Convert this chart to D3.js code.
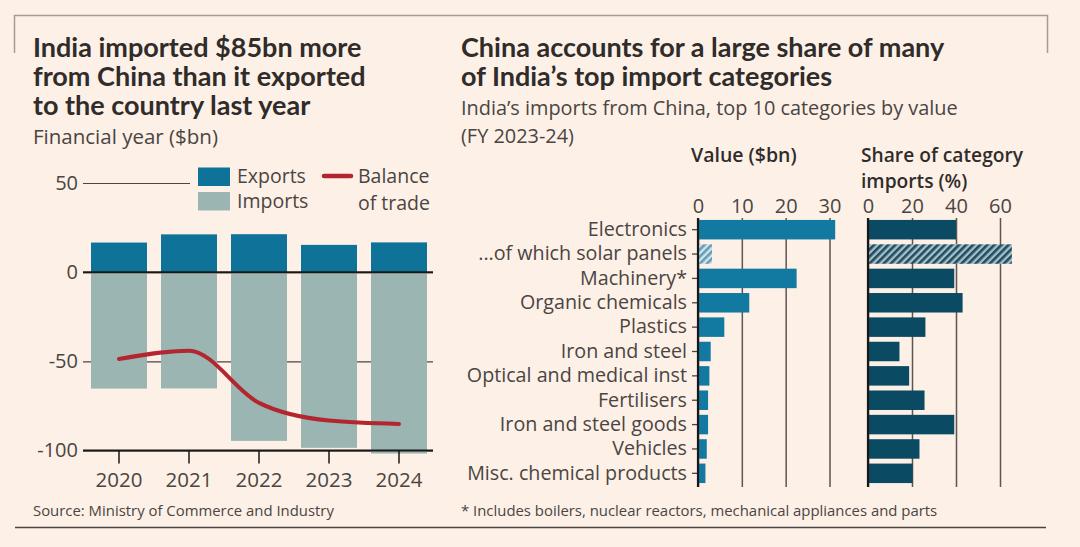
<!doctype html>
<html lang="en">
<head>
  <meta charset="utf-8" />
  <title>India and China trade</title>
  <style>
    html, body {
      margin: 0;
      padding: 0;
      background-color: #fdf0e7;
    }
    svg {
      display: block;
      font-family: "Open Sans", Lato, sans-serif;
    }
    .axis text {
      font-family: "Open Sans", sans-serif;
      fill: #4a4542;
    }
  </style>
</head>
<body>

<svg id="chart" width="1080" height="547"></svg>

<script src="https://cdn.jsdelivr.net/npm/d3@7"></script>

<script>

// Left panel: trade by financial year ($bn)
var years = ['2020', '2021', '2022', '2023', '2024'];
var exportsBn = [16.6, 21.2, 21.3, 15.3, 16.7];
var importsBn = [65.3, 65.2, 94.6, 98.5, 101.7];
var balanceBn = [-48.7, -44.0, -73.3, -83.2, -85.1];
var leftTicks = [-100, -50, 0, 50];

// Right panel: top import categories, FY 2023-24
var categories = ['Electronics', '...of which solar panels', 'Machinery*', 'Organic chemicals',
  'Plastics', 'Iron and steel', 'Optical and medical inst', 'Fertilisers',
  'Iron and steel goods', 'Vehicles', 'Misc. chemical products'];
var valueBn = [31.3, 3.2, 22.5, 11.7, 6.0, 2.9, 2.6, 2.3, 2.3, 2.0, 1.7];
var sharePct = [40.0, 65.4, 39.2, 43.0, 26.1, 14.3, 18.7, 25.7, 39.2, 23.4, 20.3];
var valueTicks = [0, 10, 20, 30];
var shareTicks = [0, 20, 40, 60];

var ink = '#2f2c2a';
var grey = '#4a4542';
var exportCol = '#0f7399';
var importCol = '#9ab5b2';
var balanceCol = '#b3262f';
var valueCol = '#127aa0';
var shareCol = '#0b4a63';

var svg = d3.select('#chart');

// hatch patterns for the solar panel row
var defs = svg.append('defs');
function hatch(id, bg, fg) {
  var p = defs.append('pattern')
    .attr('id', id)
    .attr('width', 5)
    .attr('height', 5)
    .attr('patternUnits', 'userSpaceOnUse')
    .attr('patternTransform', 'rotate(45)');
  p.append('rect').attr('width', 5).attr('height', 5).attr('fill', bg);
  p.append('rect').attr('width', 2.6).attr('height', 5).attr('fill', fg);
}
hatch('hatchValue', '#d7e3e6', '#5f9dbd');
hatch('hatchShare', '#a9bec6', '#1d4d61');

// frame
svg.append('path')
  .attr('d', 'M14.5,53V15.5H1047.5V53')
  .attr('fill', 'none')
  .attr('stroke', '#a39c97')
  .attr('stroke-width', 1.5);
svg.append('line')
  .attr('x1', 15).attr('x2', 1046)
  .attr('y1', 527.5).attr('y2', 527.5)
  .attr('stroke', grey)
  .attr('stroke-width', 1.5);

// titles and notes
function textLines(x, y0, step, lines, size, weight, fill, family) {
  lines.forEach(function (t, i) {
    svg.append('text')
      .attr('x', x)
      .attr('y', y0 + i * step)
      .attr('font-size', size)
      .attr('font-weight', weight)
      .attr('font-family', family || null)
      .attr('fill', fill)
      .text(t);
  });
}
textLines(33, 57, 29, ['India imported $85bn more', 'from China than it exported', 'to the country last year'], 27, 700, ink, 'Lato');
textLines(33, 144, 0, ['Financial year ($bn)'], 20.5, 400, grey);
textLines(461, 57, 28.5, ['China accounts for a large share of many', 'of India\u2019s top import categories'], 27, 700, ink, 'Lato');
textLines(461, 115, 27.5, ['India\u2019s imports from China, top 10 categories by value', '(FY 2023-24)'], 19.9, 400, grey);
textLines(33, 516, 0, ['Source: Ministry of Commerce and Industry'], 14.9, 400, grey);
textLines(461, 516, 0, ['* Includes boilers, nuclear reactors, mechanical appliances and parts'], 14.9, 400, grey);

// ---- left chart ----
var x = d3.scaleBand().domain(years).range([84, 434]).paddingInner(0.2).paddingOuter(0.1);
var y = d3.scaleLinear().domain([-100, 50]).range([450.5, 183]);

var yAxis = svg.append('g')
  .attr('class', 'axis')
  .attr('transform', 'translate(83,0)')
  .call(d3.axisLeft(y).tickValues(leftTicks).tickSize(-350).tickPadding(5).tickFormat(function (d) { return String(d); }));
yAxis.select('.domain').remove();
yAxis.selectAll('text').attr('font-size', 20);
yAxis.selectAll('line')
  .attr('stroke', grey)
  .attr('stroke-width', 1.2);

svg.append('g').selectAll('rect')
  .data(exportsBn)
  .enter()
  .append('rect')
  .attr('x', function (d, i) { return x(years[i]); })
  .attr('width', x.bandwidth())
  .attr('y', function (d) { return y(d); })
  .attr('height', function (d) { return y(0) - y(d); })
  .attr('fill', exportCol);

svg.append('g').selectAll('rect')
  .data(importsBn)
  .enter()
  .append('rect')
  .attr('x', function (d, i) { return x(years[i]); })
  .attr('width', x.bandwidth())
  .attr('y', y(0) + 1)
  .attr('height', function (d) { return y(-d) - y(0) - 1; })
  .attr('fill', importCol);

// zero line and -100 baseline on top of the bars
[0, -100].forEach(function (v) {
  svg.append('line')
    .attr('x1', 83).attr('x2', 433)
    .attr('y1', y(v)).attr('y2', y(v))
    .attr('stroke', '#1a1817').attr('stroke-width', 2);
});

var xAxis = svg.append('g')
  .attr('class', 'axis')
  .attr('transform', 'translate(0,' + y(-100) + ')')
  .call(d3.axisBottom(x).tickSize(13).tickPadding(9));
xAxis.select('.domain').remove();
xAxis.selectAll('text').attr('font-size', 20.5);
xAxis.selectAll('line').attr('stroke', '#1a1817').attr('stroke-width', 1.5);

var line = d3.line()
  .x(function (d, i) { return x(years[i]) + x.bandwidth() / 2; })
  .y(function (d) { return y(d); })
  .curve(d3.curveMonotoneX);
svg.append('path')
  .datum(balanceBn)
  .attr('d', line)
  .attr('fill', 'none')
  .attr('stroke', balanceCol)
  .attr('stroke-width', 4)
  .attr('stroke-linecap', 'round');

// legend
var legend = svg.append('g');
legend.append('rect').attr('x', 190).attr('y', 160).attr('width', 250).attr('height', 58).attr('fill', '#fdf0e7');
legend.append('rect').attr('x', 198).attr('y', 167.5).attr('width', 32).attr('height', 18.5).attr('fill', exportCol);
legend.append('rect').attr('x', 198).attr('y', 192).attr('width', 32).attr('height', 18.5).attr('fill', importCol);
legend.append('line').attr('x1', 324).attr('x2', 351).attr('y1', 176).attr('y2', 176)
  .attr('stroke', balanceCol).attr('stroke-width', 4.5).attr('stroke-linecap', 'round');
[['Exports', 237, 183], ['Imports', 237, 208], ['Balance', 358, 183], ['of trade', 358, 210]].forEach(function (l) {
  legend.append('text')
    .attr('x', l[1]).attr('y', l[2])
    .attr('font-size', 19.5)
    .attr('fill', grey)
    .text(l[0]);
});

// ---- right chart ----
var yCat = d3.scaleBand().domain(categories).range([217.5, 485.5]).paddingInner(0.2).paddingOuter(0.1);
var xVal = d3.scaleLinear().domain([0, 30]).range([698, 829.5]);
var xShare = d3.scaleLinear().domain([0, 60]).range([868, 1000]);
var gridTop = 218, gridBottom = 487;

textLines(691, 162, 0, ['Value ($bn)'], 19.5, 600, ink);
textLines(861, 162, 26, ['Share of category', 'imports (%)'], 19.2, 600, ink);

function topAxis(scale, ticks) {
  var g = svg.append('g')
    .attr('class', 'axis')
    .attr('transform', 'translate(0,' + gridTop + ')')
    .call(d3.axisTop(scale).tickValues(ticks).tickSize(-(gridBottom - gridTop)).tickPadding(5));
  g.select('.domain').remove();
  g.selectAll('text').attr('font-size', 20);
  g.selectAll('line').attr('stroke', '#5c5551').attr('stroke-width', 1.5);
}
topAxis(xVal, valueTicks);
topAxis(xShare, shareTicks);

var catAxis = svg.append('g')
  .attr('class', 'axis')
  .attr('transform', 'translate(698,0)')
  .call(d3.axisLeft(yCat).tickSize(6).tickPadding(5));
catAxis.select('.domain').remove();
catAxis.selectAll('text').attr('font-size', 19.7);
catAxis.selectAll('line').attr('stroke', grey).attr('stroke-width', 1.3);

svg.append('g').selectAll('rect')
  .data(valueBn)
  .enter()
  .append('rect')
  .attr('x', xVal(0))
  .attr('y', function (d, i) { return yCat(categories[i]); })
  .attr('width', function (d) { return xVal(d) - xVal(0); })
  .attr('height', yCat.bandwidth())
  .attr('fill', function (d, i) { return i === 1 ? 'url(#hatchValue)' : valueCol; });

svg.append('g').selectAll('rect')
  .data(sharePct)
  .enter()
  .append('rect')
  .attr('x', xShare(0))
  .attr('y', function (d, i) { return yCat(categories[i]); })
  .attr('width', function (d) { return xShare(d) - xShare(0); })
  .attr('height', yCat.bandwidth())
  .attr('fill', function (d, i) { return i === 1 ? 'url(#hatchShare)' : shareCol; });

[xVal(0), xShare(0)].forEach(function (px) {
  svg.append('line')
    .attr('x1', px).attr('x2', px)
    .attr('y1', gridTop).attr('y2', gridBottom)
    .attr('stroke', '#1a1817').attr('stroke-width', 2.2);
});

</script>

</body>
</html>
